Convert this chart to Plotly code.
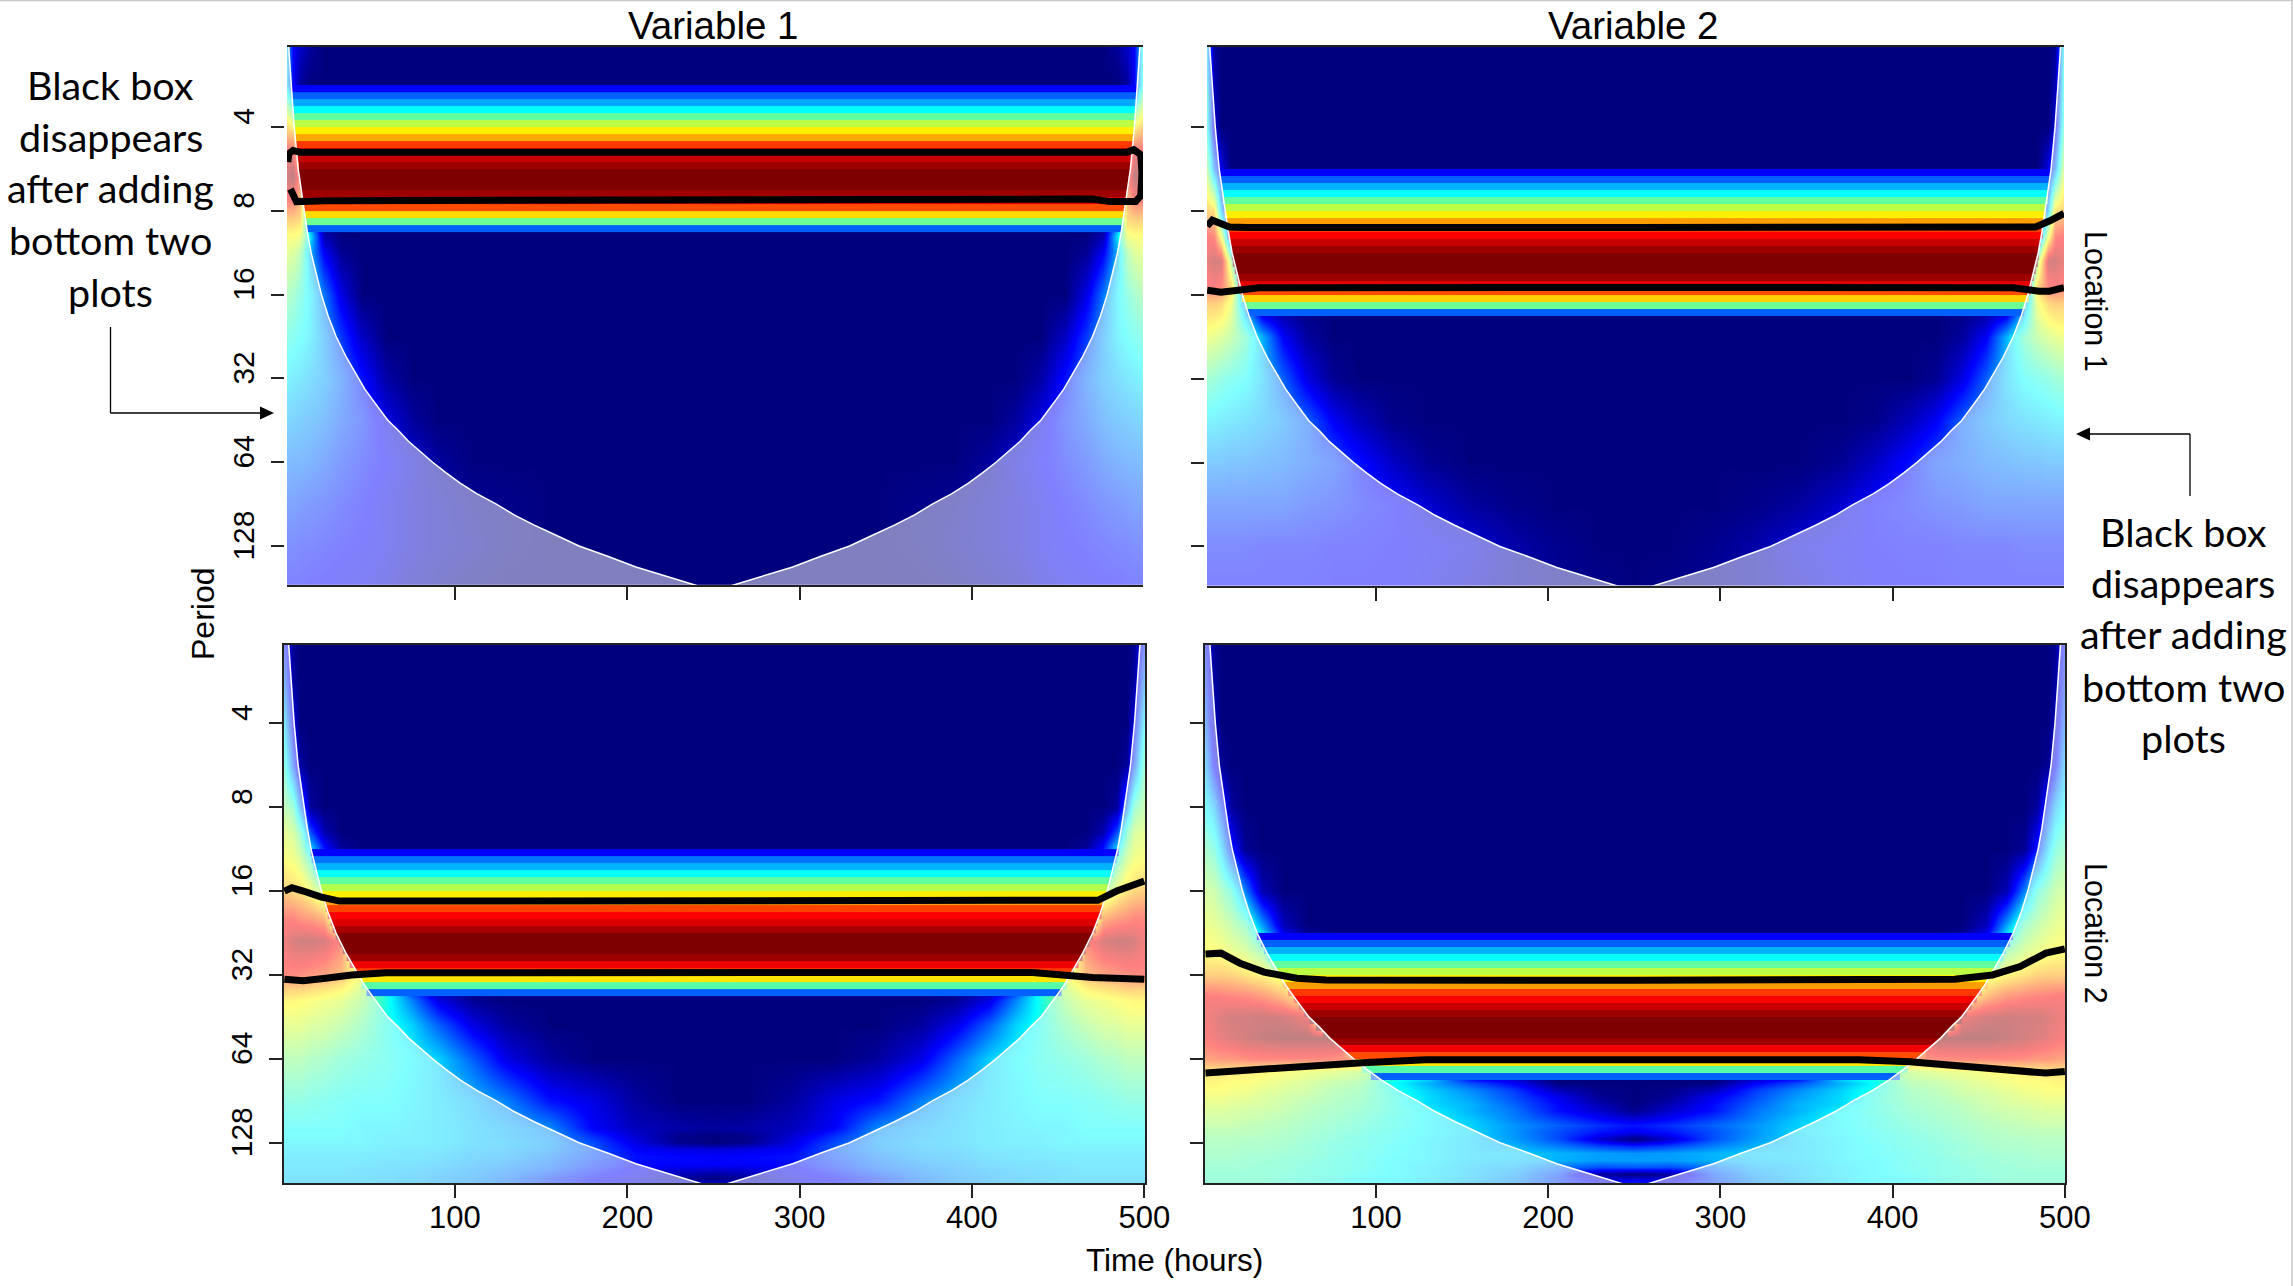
import numpy as np
import plotly.graph_objects as go

W, H = 2293, 1286

TITLES = ["Variable 1", "Variable 2"]
ROW_LABELS = ["Location 1", "Location 2"]
X_TICKS = [100, 200, 300, 400, 500]
PERIOD_TICKS = [4, 8, 16, 32, 64, 128]
NOTE_LINES = ["Black box", "disappears", "after adding", "bottom two", "plots"]

# Cone of influence: log2(period) against time on the left side
COI_OCT = [1.0, 1.05, 1.5, 2, 2.5, 3, 3.25, 3.5, 3.75, 4, 4.25, 4.5, 4.75, 5, 5.125, 5.25, 5.375, 5.5, 5.625, 5.75, 5.875, 6,
           6.125, 6.25, 6.375, 6.5, 6.625, 6.75, 6.875, 7, 7.125, 7.25, 7.375, 7.47, 7.52]
COI_X = [3.2, 3.5, 5, 6.7, 9, 12.4, 14.3, 16.5, 19.3, 22.5, 26.3, 31, 37, 44, 47.6, 52, 56.6, 61, 67.3, 73, 80, 87,
         94.7, 103, 112.6, 124, 134, 146, 159, 172, 189, 205, 225, 240, 248]

# Power in the horizontal bands, 12 rows per octave, from the start octave down
TL_BAND_START = 1.5
TL_BANDS = [.125, .22, .29, .375, .47, .56, .64, .71, .82, .875, .93, .97, 1, 1, 1, .97, .90, .80, .66, .48, .22]
TR_BAND_START = 2.5
TR_BANDS = [.125, .22, .30, .38, .47, .56, .64, .72, .82, .875, .93, .97, 1, 1, 1, .97, .90, .80, .67, .48, .22]
BL_BAND_START = 3.5
BL_BANDS = [.125, .24, .30, .38, .47, .55, .64, .72, .81, .875, .91, .96, 1, 1, 1, .97, .89, .82, .65, .46, .22]
BR_BAND_START = 4.5
BR_BANDS = [.125, .22, .30, .38, .47, .56, .64, .72, .82, .875, .93, .97, 1, 1, 1, .97, .89, .80, .65, .46, .22]

# Power around the bands: one row per listed octave, one value per time node (zeros left off)
NODE_X = [0, 6, 10, 16, 24, 34, 46, 60, 75, 90, 110, 130, 155, 180, 205, 230, 250]

TL_OCT = [1.0, 1.5, 2, 2.3, 2.6, 2.9, 3.1, 3.3, 3.5, 4, 4.5, 5, 5.5, 6, 6.5, 7, 7.5]
TL_FIELD = [
    [.42, .12, .08, .03],
    [.45, .12, .03],
    [.72, .65, .1],
    [.9, .9, .6],
    [.95, 1, .8],
    [.85, .85, .75],
    [.72, .72, .7, .2],
    [.62, .62, .6, .35, .05],
    [.58, .56, .5, .3, .12, .02],
    [.5, .46, .42, .36, .24, .1],
    [.42, .4, .38, .35, .28, .18, .07],
    [.36, .34, .33, .31, .28, .23, .14, .04],
    [.3, .29, .28, .27, .25, .21, .17, .1, .03],
    [.25, .24, .24, .23, .21, .18, .15, .12, .08, .03],
    [.2, .2, .19, .18, .17, .15, .13, .1, .07, .05, .02, .01],
    [.16, .16, .15, .15, .14, .13, .12, .1, .07, .05, .03, .01],
    [.13, .13, .13, .12, .12, .11, .1, .08, .05, .03, .01],
]

TR_OCT = [1.0, 2, 2.5, 3, 3.3, 3.6, 3.9, 4.1, 4.5, 5, 5.5, 6, 6.5, 7, 7.5]
TR_FIELD = [
    [.42, .02],
    [.5, .08],
    [.62, .25, .1],
    [.72, .68, .3],
    [.88, .85, .6, .1],
    [.9, .96, .95, .5],
    [.85, .88, .85, .7, .1],
    [.72, .72, .7, .6, .25],
    [.6, .58, .56, .52, .45, .3, .12, .03],
    [.46, .44, .42, .4, .38, .32, .22, .1, .02],
    [.35, .35, .34, .33, .32, .3, .27, .22, .12, .06, .01],
    [.27, .27, .27, .26, .26, .25, .24, .22, .2, .14, .07, .02],
    [.2, .2, .2, .2, .2, .2, .2, .18, .17, .15, .13, .08, .03, .01],
    [.15, .15, .15, .15, .15, .14, .14, .14, .13, .13, .125, .11, .09, .04, .015],
    [.13, .13, .13, .13, .13, .13, .13, .13, .125, .125, .12, .1, .07, .04, .02, .01],
]

BL_OCT = [1.0, 1.5, 2, 2.5, 3, 3.3, 3.6, 4, 4.3, 4.6, 5, 5.15, 5.3, 5.6, 6, 6.5, 6.83, 6.92, 7.0, 7.08, 7.17, 7.25, 7.33, 7.42, 7.5]
BL_FIELD = [
    [.15, .02],
    [.25, .03],
    [.36, .1],
    [.45, .2, .03],
    [.52, .45, .25, .03],
    [.58, .55, .45, .2, .05],
    [.62, .6, .55, .42, .2, .04],
    [.72, .7, .68, .62, .5, .15],
    [.85, .85, .82, .8, .75, .3],
    [.9, .95, .97, .97, .95, .85, .2],
    [.85, .85, .84, .82, .8, .75, .6, .1],
    [.72, .72, .72, .7, .68, .65, .55, .42, .15, .02],
    [.64, .64, .63, .62, .6, .58, .52, .4, .25, .1, .02],
    [.58, .58, .58, .56, .55, .52, .47, .4, .33, .22, .1, .03],
    [.5, .5, .5, .48, .47, .44, .42, .4, .37, .33, .22, .1, .03],
    [.42, .42, .42, .41, .4, .39, .38, .38, .36, .34, .31, .25, .14, .1, .03],
    [.38, .38, .38, .38, .38, .38, .36, .36, .35, .34, .32, .3, .26, .12, .06, .04, .03],
    [.37, .37, .37, .37, .37, .37, .36, .35, .35, .34, .32, .3, .27, .17, .08, .01],
    [.36, .36, .36, .36, .36, .36, .36, .35, .35, .34, .32, .31, .28, .2, .1, .02],
    [.35, .35, .35, .35, .35, .35, .35, .34, .33, .33, .31, .3, .27, .21, .12, .1, .09],
    [.34, .34, .34, .34, .34, .34, .34, .33, .33, .32, .3, .29, .25, .2, .14, .13, .125],
    [.33, .33, .33, .33, .33, .33, .33, .32, .32, .31, .29, .27, .24, .18, .13, .125, .125],
    [.33, .33, .33, .33, .33, .33, .32, .32, .31, .3, .28, .26, .22, .16, .11, .08, .07],
    [.32, .32, .32, .32, .32, .32, .32, .31, .3, .29, .27, .24, .18, .13, .09, .03, 0],
    [.32, .32, .32, .32, .32, .32, .32, .31, .3, .29, .27, .24, .18, .12, .1, .1, .1],
]

BR_OCT = [1.0, 1.5, 2, 2.5, 3, 3.5, 4, 4.4, 4.75, 5, 5.25, 5.5, 5.75, 6, 6.15, 6.29, 6.37, 6.46, 6.54, 6.62, 6.71, 6.79, 6.87, 6.95, 7.04, 7.12, 7.21, 7.29, 7.37, 7.5]
BR_FIELD = [
    [.15, .02],
    [.2, .03],
    [.25, .06],
    [.32, .12, .02],
    [.38, .3, .18, .03],
    [.47, .42, .33, .15, .02],
    [.55, .53, .48, .42, .25, .05],
    [.6, .58, .56, .52, .46, .28, .06],
    [.63, .63, .62, .6, .57, .5, .22, .08],
    [.72, .72, .72, .71, .68, .64, .58],
    [.88, .88, .87, .86, .85, .82, .75, .6],
    [.9, .92, .94, .96, .96, .97, .96, .9],
    [.88, .9, .92, .94, .96, .98, 1, 1, 1, .8],
    [.8, .81, .82, .82, .84, .85, .85, .85, .84, .8, .1],
    [.68, .68, .68, .67, .66, .64, .62, .6, .58, .55, .45, .4],
    [.64, .64, .63, .62, .62, .6, .58, .55, .52, .5, .38, .3, .2, .12],
    [.62, .62, .62, .61, .6, .58, .56, .54, .5, .48, .4, .33, .26, .18, .06, .01],
    [.6, .6, .6, .59, .58, .56, .54, .52, .49, .47, .41, .34, .28, .2, .11, .02],
    [.58, .58, .58, .57, .56, .55, .53, .5, .48, .46, .41, .34, .3, .22, .13, .05],
    [.56, .56, .56, .55, .54, .53, .52, .49, .47, .45, .41, .37, .3, .24, .14, .08, .02],
    [.54, .54, .54, .54, .53, .52, .5, .48, .46, .44, .4, .37, .32, .25, .18, .12, .08],
    [.52, .52, .52, .52, .51, .5, .49, .47, .45, .43, .4, .37, .33, .27, .22, .17, .14],
    [.5, .5, .5, .5, .5, .49, .48, .46, .44, .42, .39, .37, .34, .27, .2, .14, .11],
    [.49, .49, .49, .49, .48, .48, .47, .45, .43, .41, .39, .36, .33, .28, .2, .08, 0],
    [.48, .48, .48, .48, .47, .47, .46, .44, .42, .41, .38, .36, .33, .3, .25, .19, .16],
    [.47, .47, .47, .47, .46, .46, .45, .44, .42, .4, .38, .36, .33, .33, .3, .28, .27],
    [.46, .46, .46, .46, .45, .45, .44, .43, .41, .4, .37, .36, .33, .32, .3, .28, .28],
    [.45, .45, .45, .45, .45, .44, .44, .42, .41, .4, .37, .35, .32, .3, .24, .2, .21],
    [.44, .44, .44, .44, .44, .44, .43, .42, .41, .39, .37, .35, .32, .28, .2, .03, 0],
    [.44, .44, .44, .44, .44, .44, .43, .42, .4, .38, .36, .34, .3, .26, .18, .14, .2],
]

# Significance contours: time and log2(period)
TL_LINE_X = [3, 3.5, 6, 10, 250, 490, 494, 498, 498.7, 498, 495, 480, 470, 250, 30, 25, 8, 4.5]
TL_LINE_OCT = [2.42, 2.32, 2.28, 2.30, 2.30, 2.30, 2.27, 2.33, 2.55, 2.82, 2.89, 2.89, 2.86, 2.86, 2.86, 2.88, 2.89, 2.74]

TR_UP_X = [2, 5, 15, 25, 250, 483, 491, 499.5]
TR_UP_OCT = [3.18, 3.11, 3.19, 3.196, 3.196, 3.19, 3.12, 3.03]
TR_LOW_X = [2, 10, 20, 32, 250, 470, 485, 491, 499.5]
TR_LOW_OCT = [3.945, 3.97, 3.945, 3.915, 3.913, 3.915, 3.957, 3.957, 3.915]

BL_UP_X = [1, 5.4, 12, 22, 33, 250, 473, 484, 500]
BL_UP_OCT = [4.0, 3.96, 4.0, 4.07, 4.12, 4.123, 4.11, 4.0, 3.88]
BL_LOW_X = [1, 12, 25, 40, 60, 250, 435, 470, 500]
BL_LOW_OCT = [5.05, 5.07, 5.04, 5.0, 4.974, 4.97, 4.97, 5.03, 5.05]

BR_UP_X = [1, 10, 21, 35, 54, 71, 250, 436, 458, 474, 489, 500]
BR_UP_OCT = [4.75, 4.74, 4.86, 4.966, 5.04, 5.06, 5.063, 5.05, 5.0, 4.9, 4.74, 4.69]
BR_LOW_X = [1, 25, 54, 92, 129, 250, 380, 410, 439, 468, 489, 500]
BR_LOW_OCT = [6.168, 6.134, 6.09, 6.046, 6.012, 6.012, 6.012, 6.036, 6.08, 6.14, 6.17, 6.15]

JET = [[0, "#00007f"], [.125, "#0000ff"], [.375, "#00ffff"], [.625, "#ffff00"], [.875, "#ff0000"], [1, "#7f0000"]]
FONT = "Liberation Sans"
INK = "#222222"


def fx(p):
    return p / W


def fy(p):
    return 1 - p / H


def mirror_field(rows):
    out = []
    for r in rows:
        full = list(r) + [0] * (len(NODE_X) - len(r))
        out.append(full + full[-2::-1])
    return out


node_x_full = NODE_X + [500 - v for v in NODE_X[-2::-1]]


def band_layer(start, bands):
    edges_oct = start + np.arange(len(bands) + 1) / 12
    xe = np.arange(0, 502, 1.0)
    xc = (xe[:-1] + xe[1:]) / 2
    z = []
    for i, v in enumerate(bands):
        left = np.interp(edges_oct[i], COI_OCT, COI_X)
        z.append([v if left <= c <= 501 - left else None for c in xc])
    return xe, 2.0 ** edges_oct, z


PANELS = [
    dict(box=(287, 1143, 46.8, 585), xr=(2.5, 499.3), octr=(1.043, 7.465), band=(TL_BAND_START, TL_BANDS),
         field=(TL_OCT, TL_FIELD), lines=[(TL_LINE_X, TL_LINE_OCT)], frame=False, tickpos=283.5, left=True, bottom=False),
    dict(box=(1207, 2064, 46.8, 585.5), xr=(1.9, 499.5), octr=(1.043, 7.465), band=(TR_BAND_START, TR_BANDS),
         field=(TR_OCT, TR_FIELD), lines=[(TR_UP_X, TR_UP_OCT), (TR_LOW_X, TR_LOW_OCT)], frame=False, tickpos=1204, left=False, bottom=False),
    dict(box=(284, 1145, 645, 1183), xr=(0.8, 500.4), octr=(1.067, 7.48), band=(BL_BAND_START, BL_BANDS),
         field=(BL_OCT, BL_FIELD), lines=[(BL_UP_X, BL_UP_OCT), (BL_LOW_X, BL_LOW_OCT)], frame=True, tickpos=284, left=True, bottom=True),
    dict(box=(1205, 2065, 645, 1183), xr=(0.7, 500.1), octr=(1.067, 7.48), band=(BR_BAND_START, BR_BANDS),
         field=(BR_OCT, BR_FIELD), lines=[(BR_UP_X, BR_UP_OCT), (BR_LOW_X, BR_LOW_OCT)], frame=True, tickpos=1205, left=False, bottom=True),
]

fig = go.Figure()
layout = {}
for i, p in enumerate(PANELS, start=1):
    xn, yn = f"x{i}", f"y{i}"
    octs, rows = p["field"]
    fig.add_trace(go.Heatmap(x=node_x_full, y=2.0 ** np.array(octs), z=mirror_field(rows), zmin=0, zmax=1,
                             colorscale=JET, showscale=False, zsmooth="best", xaxis=xn, yaxis=yn, hoverinfo="skip"))
    xe, ye, z = band_layer(*p["band"])
    fig.add_trace(go.Heatmap(x=xe, y=ye, z=z, zmin=0, zmax=1, colorscale=JET, showscale=False,
                             xaxis=xn, yaxis=yn, hoverinfo="skip"))
    coi_y = 2.0 ** np.array(COI_OCT)
    left_x = np.array(COI_X)
    right_x = 501 - left_x
    for cx, edge in ((left_x, -5), (right_x, 505)):
        fig.add_trace(go.Scatter(x=list(cx) + [edge, edge], y=list(coi_y) + [coi_y[-1], coi_y[0]], mode="lines",
                                 line=dict(width=0), fill="toself", fillcolor="rgba(255,255,255,0.5)",
                                 xaxis=xn, yaxis=yn, hoverinfo="skip", showlegend=False))
        fig.add_trace(go.Scatter(x=cx, y=coi_y, mode="lines", line=dict(color="white", width=1.5),
                                 xaxis=xn, yaxis=yn, hoverinfo="skip", showlegend=False))
    for lx, lo in p["lines"]:
        fig.add_trace(go.Scatter(x=lx, y=2.0 ** np.array(lo), mode="lines", line=dict(color="black", width=7),
                                 xaxis=xn, yaxis=yn, hoverinfo="skip", showlegend=False))
    l, r, t, b = p["box"]
    layout[f"xaxis{i}"] = dict(
        domain=[fx(l), fx(r)], range=list(p["xr"]), anchor=yn, showgrid=False, zeroline=False, automargin=False,
        showline=True, mirror=True, linecolor=INK, linewidth=2,
        tickmode="array", tickvals=X_TICKS if p["bottom"] else X_TICKS[:-1],
        ticktext=[str(v) for v in X_TICKS] if p["bottom"] else [""] * 4,
        ticks="outside", ticklen=13, tickwidth=1.5, tickcolor=INK, showticklabels=p["bottom"],
        ticklabelstandoff=-7, tickfont=dict(family=FONT, size=31, color="black"))
    ya = dict(
        domain=[fy(b), fy(t)], type="log", range=[np.log10(2.0 ** p["octr"][1]), np.log10(2.0 ** p["octr"][0])],
        showgrid=False, zeroline=False, automargin=False, tickmode="array", tickvals=PERIOD_TICKS,
        ticktext=[str(v) for v in PERIOD_TICKS], ticks="outside", ticklen=13, tickwidth=1.5, tickcolor=INK,
        showticklabels=p["left"], tickangle=-90, ticklabelstandoff=5, ticklabelshift=6,
        tickfont=dict(family=FONT, size=30, color="black"))
    if p["frame"]:
        ya.update(anchor=xn, showline=True, mirror=True, linecolor=INK, linewidth=2)
    else:
        ya.update(anchor="free", position=fx(p["tickpos"]), showline=False)
    layout[f"yaxis{i}"] = ya

annotations = []


def label(text, x, y, size, family=FONT, angle=0):
    annotations.append(dict(text=text, xref="paper", yref="paper", x=fx(x), y=fy(y), xanchor="center", yanchor="middle",
                            showarrow=False, textangle=angle, font=dict(family=family, size=size, color="black")))


label(TITLES[0], 713, 26, 38.5)
label(TITLES[1], 1633, 26, 38.5)
label("Time (hours)", 1174, 1260, 31.5)
label("Period", 203, 614, 32, angle=-90)
label(ROW_LABELS[0], 2096, 301, 30.5, angle=90)
label(ROW_LABELS[1], 2096, 933, 30.5, angle=90)
for text, y in zip(NOTE_LINES, [85, 136, 187, 240, 291]):
    label(text, 110.5, y, 39.5, family="Lato")
for text, y in zip(NOTE_LINES, [531, 582, 633, 686, 737]):
    label(text, 2183, y, 39.5, family="Lato")


def seg(x0, y0, x1, y1, color="black", width=1.3):
    return dict(type="line", xref="paper", yref="paper", x0=fx(x0), y0=fy(y0), x1=fx(x1), y1=fy(y1),
                line=dict(color=color, width=width))


def tri(pts):
    path = "M " + " L ".join(f"{fx(a):.5f},{fy(b):.5f}" for a, b in pts) + " Z"
    return dict(type="path", xref="paper", yref="paper", path=path, fillcolor="black", line=dict(width=0))


shapes = [
    seg(110.5, 327, 110.5, 413), seg(110.5, 413, 262, 413),
    tri([(274, 413), (260, 406.5), (260, 419.5)]),
    seg(2190, 496, 2190, 434), seg(2190, 434, 2088, 434),
    tri([(2076, 434), (2090, 427.5), (2090, 440.5)]),
    seg(0, 0.5, W, 0.5, color="#c8c8c8", width=1.5),
    seg(W - 1, 0, W - 1, H, color="#c8c8c8", width=1.5),
]

fig.update_layout(width=W, height=H, margin=dict(l=0, r=0, t=0, b=0, pad=0, autoexpand=False), paper_bgcolor="white",
                  plot_bgcolor="white", showlegend=False, autosize=False, annotations=annotations, shapes=shapes, **layout)
fig.write_html("out.html", config=dict(displayModeBar=False), post_script="document.body.style.margin='0';")
